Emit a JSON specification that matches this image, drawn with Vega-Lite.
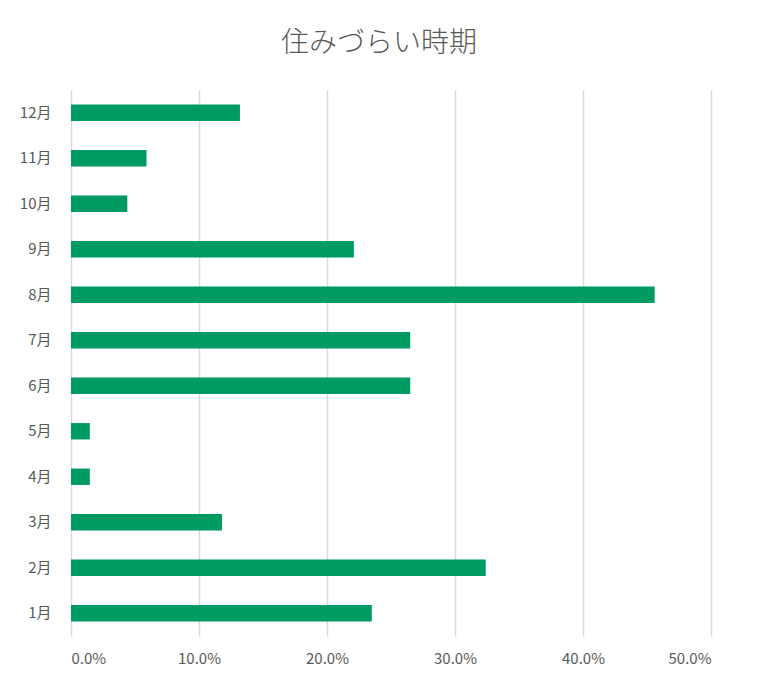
{
  "$schema": "https://vega.github.io/schema/vega-lite/v6.json",
  "autosize": {"type": "none"},
  "width": 640,
  "height": 546,
  "padding": {"left": 71, "top": 90, "right": 48, "bottom": 49},
  "background": "#ffffff",
  "title": {
    "text": "住みづらい時期",
    "font": "Noto Sans CJK JP",
    "fontSize": 28,
    "fontWeight": 300,
    "color": "#595959",
    "anchor": "middle",
    "dx": -12,
    "offset": 32
  },
  "config": {
    "view": {"stroke": null},
    "axis": {
      "labelFont": "Noto Sans CJK JP",
      "labelFontSize": 15,
      "labelColor": "#595959",
      "domain": false,
      "ticks": false,
      "title": null
    }
  },
  "data": {
    "values": [
      {"month": "1月", "share": 0.235},
      {"month": "2月", "share": 0.324},
      {"month": "3月", "share": 0.118},
      {"month": "4月", "share": 0.0147},
      {"month": "5月", "share": 0.0147},
      {"month": "6月", "share": 0.265},
      {"month": "7月", "share": 0.265},
      {"month": "8月", "share": 0.456},
      {"month": "9月", "share": 0.221},
      {"month": "10月", "share": 0.044},
      {"month": "11月", "share": 0.059},
      {"month": "12月", "share": 0.132}
    ]
  },
  "mark": {"type": "bar", "color": "#009B62"},
  "encoding": {
    "x": {
      "field": "share",
      "type": "quantitative",
      "scale": {"domain": [0, 0.5], "nice": false},
      "axis": {
        "format": ".1%",
        "values": [0, 0.1, 0.2, 0.3, 0.4, 0.5],
        "grid": true,
        "gridColor": "#d9d9d9",
        "gridWidth": 1.5,
        "labelPadding": 15
      }
    },
    "y": {
      "field": "month",
      "type": "nominal",
      "sort": ["12月", "11月", "10月", "9月", "8月", "7月", "6月", "5月", "4月", "3月", "2月", "1月"],
      "scale": {"paddingInner": 0.64, "paddingOuter": 0.32},
      "axis": {"grid": false, "labelPadding": 20}
    }
  }
}
